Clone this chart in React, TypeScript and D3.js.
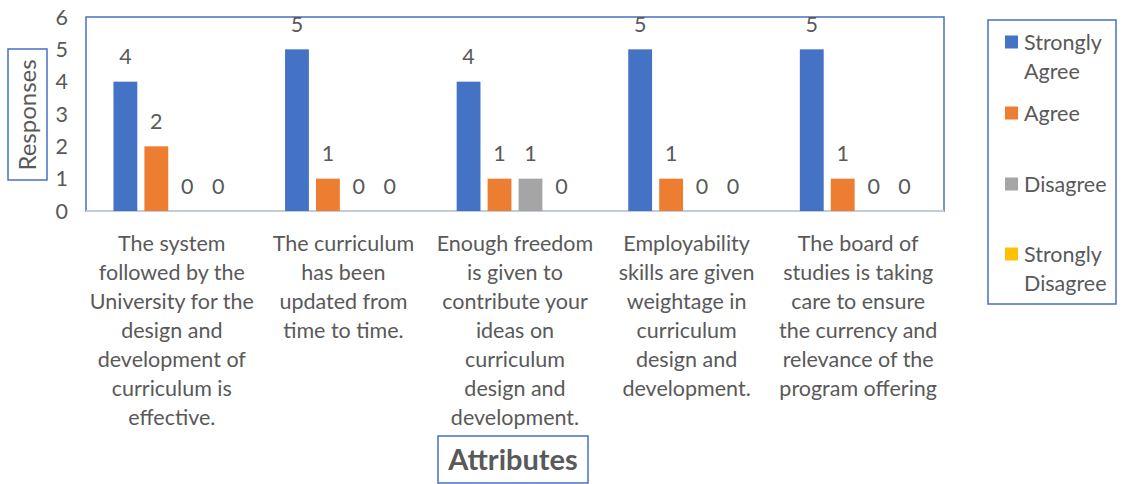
import React from 'react'
import * as d3 from 'd3'

const categories = [
  ['The system', 'followed by the', 'University for the', 'design and', 'development of', 'curriculum is', 'effective.'],
  ['The curriculum', 'has been', 'updated from', 'time to time.'],
  ['Enough freedom', 'is given to', 'contribute your', 'ideas on', 'curriculum', 'design and', 'development.'],
  ['Employability', 'skills are given', 'weightage in', 'curriculum', 'design and', 'development.'],
  ['The board of', 'studies is taking', 'care to ensure', 'the currency and', 'relevance of the', 'program offering'],
]
const seriesNames = ['Strongly Agree', 'Agree', 'Disagree', 'Strongly Disagree']
const stronglyAgree = [4, 5, 4, 5, 5]
const agree = [2, 1, 1, 1, 1]
const disagree = [0, 0, 1, 0, 0]
const stronglyDisagree = [0, 0, 0, 0, 0]
const yTicks = [0, 1, 2, 3, 4, 5, 6]

const colors = ['#4472C4', '#ED7D31', '#A5A5A5', '#FFC000']
const seriesValues = [stronglyAgree, agree, disagree, stronglyDisagree]
const legendLines = [['Strongly', 'Agree'], ['Agree'], ['Disagree'], ['Strongly', 'Disagree']]

const W = 1124
const H = 484
const plot = { left: 86, right: 944, top: 17, bottom: 211 }
const font = 'Lato, "Open Sans", sans-serif'
const textColor = '#595959'
const border = '#4472C4'
const fs = 21.5

export default function App() {
  const x0 = d3.scaleBand<number>()
    .domain(d3.range(categories.length))
    .range([plot.left, plot.right])
    .paddingInner(0.32)
    .paddingOuter(0.16)
  const x1 = d3.scaleBand<number>()
    .domain(d3.range(seriesNames.length))
    .range([0, x0.bandwidth()])
    .paddingInner(0.23)
  const y = d3.scaleLinear().domain([0, 6]).range([plot.bottom, plot.top])

  const legendY = [42, 113, 184, 254]

  return (
    <svg width={W} height={H} style={{ position: 'absolute', left: 0, top: 0, fontFamily: font }}>
      <rect x={0} y={0} width={W} height={H} fill="#fff" />
      {/* plot frame */}
      <rect x={plot.left} y={plot.top} width={plot.right - plot.left} height={plot.bottom - plot.top}
        fill="none" stroke={border} strokeWidth={1.5} />
      <line x1={plot.left} x2={plot.right} y1={plot.bottom} y2={plot.bottom} stroke="#c3cbd9" strokeWidth={2} />

      {/* y ticks */}
      {yTicks.map(t => (
        <text key={t} x={68} y={y(t)} dy="0.35em" textAnchor="end" fontSize={fs} fill={textColor}>{t}</text>
      ))}

      {/* bars */}
      {categories.map((_, ci) => (
        <g key={ci} transform={`translate(${x0(ci)},0)`}>
          {seriesValues.map((vals, si) => {
            const v = vals[ci]
            const bx = x1(si)!
            return (
              <g key={si}>
                {v > 0 && (
                  <rect x={bx} y={y(v)} width={x1.bandwidth()} height={y(0) - y(v)} fill={colors[si]} />
                )}
                <text x={bx + x1.bandwidth() / 2} y={y(v) - 25} dy="0.35em" textAnchor="middle"
                  fontSize={fs} fill={textColor}>{v}</text>
              </g>
            )
          })}
        </g>
      ))}

      {/* category labels */}
      {categories.map((lines, ci) => (
        <text key={ci} x={x0(ci)! + x0.bandwidth() / 2} textAnchor="middle" fontSize={fs} fill={textColor}>
          {lines.map((l, li) => (
            <tspan key={li} x={x0(ci)! + x0.bandwidth() / 2} y={243 + li * 29} dy="0.35em">{l}</tspan>
          ))}
        </text>
      ))}

      {/* y title */}
      <rect x={8} y={49} width={39} height={131} fill="none" stroke={border} strokeWidth={1.5} />
      <text transform="translate(28,115) rotate(-90)" textAnchor="middle" dy="0.35em" fontSize={24} fill={textColor}>Responses</text>

      {/* x title */}
      <rect x={438} y={436} width={150} height={47} fill="none" stroke={border} strokeWidth={1.5} />
      <text x={513} y={460} textAnchor="middle" dy="0.35em" fontSize={29} fontWeight="bold" fill={textColor}>Attributes</text>

      {/* legend */}
      <rect x={988} y={20} width={128} height={284} fill="none" stroke={border} strokeWidth={1.5} />
      {seriesNames.map((name, i) => (
        <g key={name}>
          <rect x={1005} y={legendY[i] - 6.5} width={13} height={13} fill={colors[i]} />
          <text fontSize={fs} fill={textColor}>
            {legendLines[i].map((l, li) => (
              <tspan key={li} x={1024} y={legendY[i] + li * 29} dy="0.35em">{l}</tspan>
            ))}
          </text>
        </g>
      ))}
    </svg>
  )
}
